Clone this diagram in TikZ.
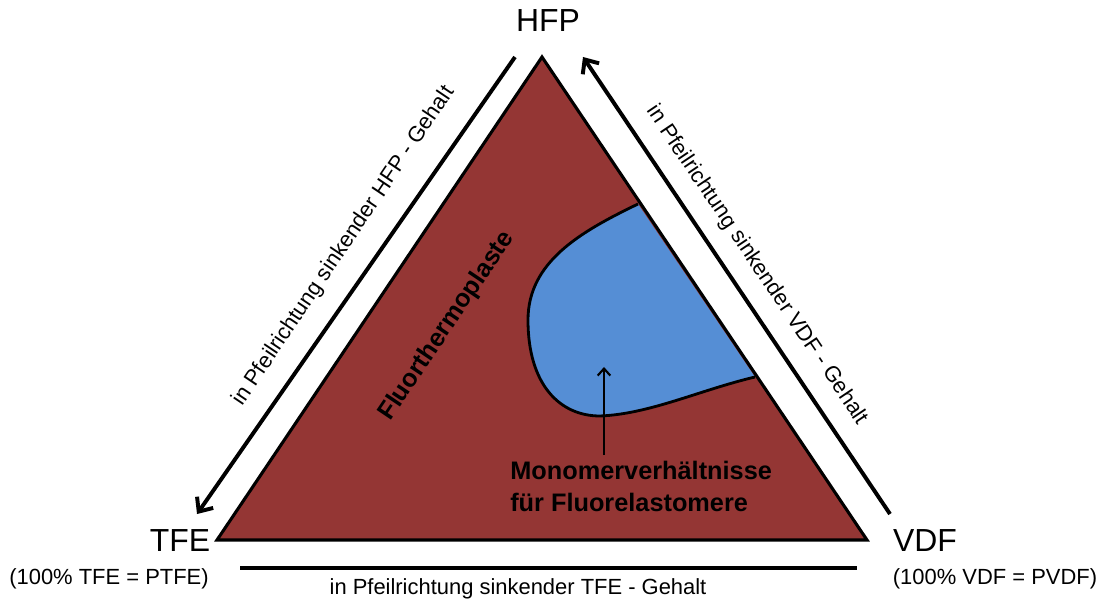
\documentclass[tikz,border=0pt]{standalone}
\usepackage{fontspec}
\setmainfont{Liberation Sans}
\usetikzlibrary{arrows.meta,positioning}
\definecolor{fkRed} {RGB}{148,54,52}
\definecolor{fkBlue}{RGB}{85,142,213}

\begin{document}
\begin{tikzpicture}
[x = 0.025cm, y = -0.025cm,
  corner/.style   = { inner sep = 0pt, font = \fontsize{22.7}{26}\selectfont },
  note/.style     = { inner sep = 0pt, font = \fontsize{15.6}{18}\selectfont },
  boldtext/.style = { inner sep = 0pt, font = \fontsize{18}{22.7}\selectfont\bfseries },
  trend/.style    = { line width = 2.8pt, -{Straight Barb[length=8pt, width=14pt]} }
]
\useasboundingbox (0,0) rectangle (1104,602);

% Corners of the triangle:
\coordinate (hfp) at (542,57);
\coordinate (tfe) at (217,540);
\coordinate (vdf) at (867,540);

% Triangle:
\fill[fkRed] (hfp) -- (tfe) -- (vdf) -- cycle;

% Region of the fluoroelastomers:
\coordinate (edgeTop) at (638,204);
\coordinate (edgeBot) at (755,377);
\filldraw[fill = fkBlue, line width = 2pt]
  (edgeTop) .. controls (580,232) and (528,262) .. (528,320)
            .. controls (528,385) and (560,416) .. (600,416)
            .. controls (650,414) and (700,390) .. (edgeBot);

\draw[line width = 2.2pt] (hfp) -- (tfe) -- (vdf) -- cycle;

% Corner labels:
\node[corner] (hfpLabel) at (548,21)  {HFP};
\node[corner] (tfeLabel) at (180,541) {TFE};
\node[corner] (vdfLabel) at (925,541) {VDF};
\node[note]   (tfeNote)  at (109,579) {(100\% TFE = PTFE)};
\node[note]   (vdfNote)  at (995,579) {(100\% VDF = PVDF)};

% Arrows along the edges:
\coordinate (hfpFrom) at (515,57);
\coordinate (hfpTo)   at (197,514);
\coordinate (vdfFrom) at (890,514);
\coordinate (vdfTo)   at (583,57);
\coordinate (tfeFrom) at (240,568);
\coordinate (tfeTo)   at (857,568);
\draw[trend] (hfpFrom) -- (hfpTo);
\draw[trend] (vdfFrom) -- (vdfTo);
\draw[line width = 2.8pt] (tfeFrom) -- (tfeTo);

\node[note, rotate =  56.06] (hfpText) at (344,246) {in Pfeilrichtung sinkender HFP - Gehalt};
\node[note, rotate = -56.06] (vdfText) at (757,265) {in Pfeilrichtung sinkender VDF - Gehalt};
\node[note]                  (tfeText) at (518,589) {in Pfeilrichtung sinkender TFE - Gehalt};

% Areas:
\node[boldtext, rotate = 56.06] (thermo) at (447,326) {Fluorthermoplaste};
\node[boldtext, align = left, anchor = north west] (elast) at (510,461)
  {Monomerverhältnisse\\für Fluorelastomere};

\coordinate (elastFrom) at (604,455);
\coordinate (elastTo)   at (604,367);
\draw[line width = 1.5pt, -{Straight Barb[length=5pt, width=9pt]}] (elastFrom) -- (elastTo);
\end{tikzpicture}
\end{document}
